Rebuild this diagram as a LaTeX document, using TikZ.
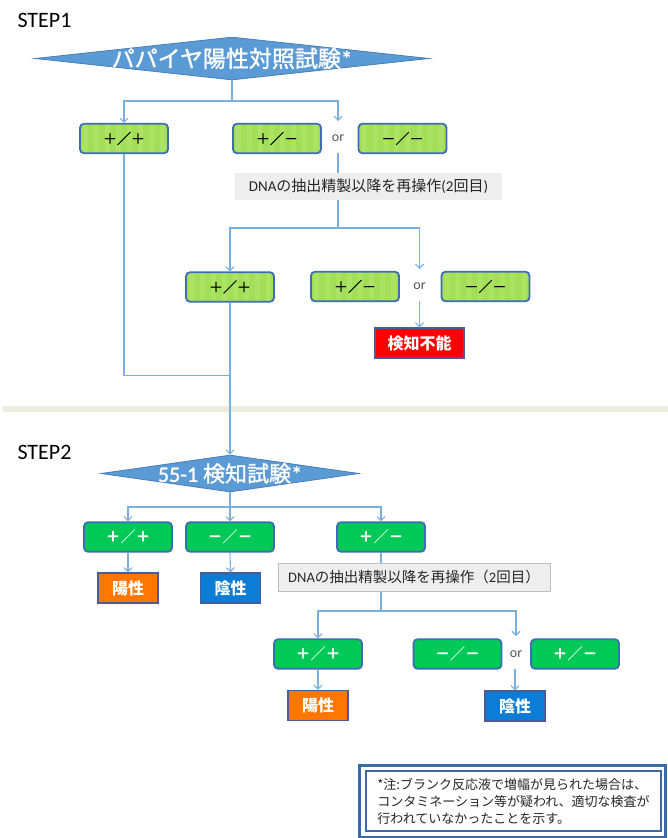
\documentclass[tikz,border=0pt]{standalone}
\usepackage{fontspec}
\setmainfont{Carlito}
\newfontfamily\jp{Noto Sans CJK JP}
\newfontfamily\jpm{Noto Sans CJK JP}[FakeBold=1.2]
\newfontfamily\latm{Carlito}[FakeBold=1.2]
\usetikzlibrary{shapes.geometric,arrows.meta}
\definecolor{connc}{HTML}{7BAFE0}
\definecolor{boxb}{HTML}{3E6DB5}
\definecolor{lgreen}{HTML}{A2DE57}
\definecolor{lgreenb}{HTML}{ADE364}
\definecolor{dgreen}{HTML}{00C957}
\definecolor{orangec}{HTML}{FF7700}
\definecolor{negc}{HTML}{0C7CD5}
\definecolor{redc}{HTML}{FF0000}
\definecolor{resb}{HTML}{4A5C96}
\definecolor{diaf}{HTML}{5B9BD5}
\definecolor{diab}{HTML}{4A7EBB}
\definecolor{sepc}{HTML}{EDECDD}
\definecolor{dnaf}{HTML}{EEEEEE}
\definecolor{dnab}{HTML}{BFBFBF}
\definecolor{noteb}{HTML}{3B6AA6}
\definecolor{orgray}{HTML}{555555}
\begin{document}
\begin{tikzpicture}[x=1pt,y=-1pt,
  conn/.style={draw=connc, line width=1.1pt},
  arr/.style={conn, -{Straight Barb[length=4pt,width=8pt]}},
  basebox/.style={rectangle, rounded corners=4pt, draw=boxb, line width=1.8pt,
    minimum width=88pt, minimum height=29.5pt, inner sep=0pt},
  lgbox/.style={basebox, fill=lgreen, text=black, font=\jpm\fontsize{14}{14}\selectfont,
    path picture={\foreach \k in {0,...,8}
      \fill[lgreenb] ([xshift=\k*11pt+3pt]path picture bounding box.south west)
        rectangle ++(5pt,40pt);}},
  gbox/.style={basebox, fill=dgreen, text=white, font=\jp\bfseries\fontsize{15}{15}\selectfont},
  resbox/.style={rectangle, draw=resb, line width=1.3pt, minimum width=60pt,
    minimum height=30pt, inner sep=0pt, text=white, font=\jp\bfseries\fontsize{16}{16}\selectfont},
  dnabox/.style={rectangle, fill=dnaf, inner sep=0pt, text=black!85,
    font=\fontsize{15}{15}\selectfont},
  diam/.style={diamond, draw=diab, fill=diaf, line width=0.8pt, inner sep=0pt},
  dlabel/.style={text=white, font=\jpm\fontsize{23}{23}\selectfont},
  ortext/.style={text=orgray, font=\fontsize{14}{14}\selectfont},
  steptext/.style={anchor=west, text=black, font=\fontsize{22}{22}\selectfont}
]
\useasboundingbox (0,0) rectangle (668,838);
\fill[white] (0,0) rectangle (668,838);
% separator band
\fill[sepc] (3,406) rectangle (668,412);

% ---------- STEP 1 ----------
\node[steptext] (s1) at (14,20) {STEP1};
\node[diam, minimum width=394pt, minimum height=43pt,
  label={[dlabel]center:{パパイヤ陽性対照試験{\latm *}}}] (d1) at (232,58.5) {};

\node[lgbox] (a1) at (124,138.5) {＋／＋};
\node[lgbox] (b1) at (277,138.5) {＋／－};
\node[ortext] (or1) at (338,138.5) {or};
\node[lgbox] (c1) at (402.5,138.5) {－／－};

\coordinate (j1) at (232,101);
\coordinate (t1) at (338,121);
\coordinate (t2) at (338,153);
\coordinate (j2) at (338,228);
\draw[arr] (d1.south) -- (j1) -| (a1.north);
\draw[arr] (j1) -| (t1);
\draw[conn] (t2) -- (j2);

\node[dnabox, minimum width=267pt, minimum height=27pt] (n1) at (368.5,186.5)
  {DNA{\jp の抽出精製以降を再操作}(2{\jp 回目})};

\node[lgbox] (a2) at (230,287) {＋／＋};
\node[lgbox] (b2) at (355,286.5) {＋／－};
\node[ortext] (or2) at (419.5,286.5) {or};
\node[lgbox] (c2) at (485.5,286.5) {－／－};
\node[resbox, fill=redc, minimum width=89pt] (ng) at (419.5,343) {検知不能};

\coordinate (t3) at (419.5,269);
\coordinate (t4) at (419.5,301);
\draw[arr] (j2) -| (a2.north);
\draw[arr] (j2) -| (t3);
\draw[arr] (t4) -- (ng.north);

\coordinate (j3) at (230,375.5);
\draw[conn] (a1.south) |- (j3);

% ---------- STEP 2 ----------
\node[steptext] (s2) at (14,452) {STEP2};
\node[diam, minimum width=258pt, minimum height=37pt,
  label={[dlabel, font=\latm\fontsize{22}{22}\selectfont]center:{55-1 {\jpm 検知試験}*}}] (d2) at (230,473.5) {};
\draw[arr] (a2.south) -- (d2.north);

\node[gbox] (d) at (128,537) {＋／＋};
\node[gbox] (e) at (230,537) {－／－};
\node[gbox] (f) at (381,537) {＋／－};

\coordinate (j4) at (230,507);
\draw[conn] (d2.south) -- (j4);
\draw[arr] (j4) -| (d.north);
\draw[arr] (j4) -- (e.north);
\draw[arr] (j4) -| (f.north);

\node[resbox, fill=orangec] (pos1) at (128,588) {陽性};
\node[resbox, fill=negc] (neg1) at (230.5,588) {陰性};
\draw[arr] (d.south) -- (pos1.north);
\draw[arr] (e.south) -- (neg1.north);

\coordinate (j5) at (381,611);
\draw[conn] (f.south) -- (j5);
\node[dnabox, draw=dnab, line width=0.8pt, minimum width=272pt, minimum height=28pt,
  font=\fontsize{14.5}{14.5}\selectfont] (n2) at (414,577)
  {DNA{\jp の抽出精製以降を再操作（}2{\jp 回目）}};

\node[gbox] (g) at (318,654) {＋／＋};
\node[gbox] (h) at (457.5,654) {－／－};
\node[ortext] (or3) at (516,654) {or};
\node[gbox] (i) at (575,654) {＋／－};

\coordinate (t5) at (516,636);
\coordinate (t6) at (515,669);
\draw[arr] (j5) -| (g.north);
\draw[arr] (j5) -| (t5);

\node[resbox, fill=orangec] (pos2) at (318,705.5) {陽性};
\node[resbox, fill=negc] (neg2) at (515,706) {陰性};
\draw[arr] (g.south) -- (pos2.north);
\draw[arr] (t6) -- (neg2.north);

% ---------- note ----------
\node[rectangle, draw=noteb, line width=3pt, fill=white, minimum width=306pt,
  minimum height=72pt, inner sep=0pt] (nbo) at (512,801) {};
\node[rectangle, draw=noteb, line width=1.4pt, minimum width=295pt,
  minimum height=60pt, inner sep=0pt, align=left, text=black!85,
  font=\jp\fontsize{13}{17}\selectfont] (nbi) at (513.5,801) {%
  *注:ブランク反応液で増幅が見られた場合は、\\
  コンタミネーション等が疑われ、適切な検査が\\
  行われていなかったことを示す。};
\end{tikzpicture}
\end{document}
